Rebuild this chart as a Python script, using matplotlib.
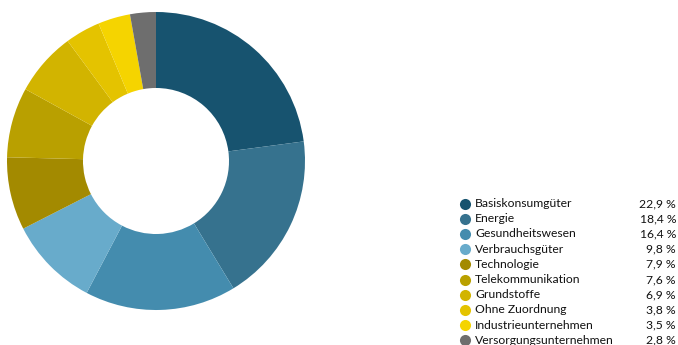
import matplotlib
matplotlib.use('Agg')
import matplotlib.pyplot as plt

plt.rcParams['font.family'] = ['Lato', 'DejaVu Sans']

categories = ['Basiskonsumgüter', 'Energie', 'Gesundheitswesen', 'Verbrauchsgüter',
              'Technologie', 'Telekommunikation', 'Grundstoffe', 'Ohne Zuordnung',
              'Industrieunternehmen', 'Versorgungsunternehmen']
shares = [22.9, 18.4, 16.4, 9.8, 7.9, 7.6, 6.9, 3.8, 3.5, 2.8]
share_labels = ['22,9 %', '18,4 %', '16,4 %', '9,8 %', '7,9 %', '7,6 %', '6,9 %',
                '3,8 %', '3,5 %', '2,8 %']
colors = ['#17536f', '#36728e', '#448cae', '#68abcb', '#a38a00', '#b9a000',
          '#d2b400', '#e4c300', '#f5d400', '#6e6e6e']

W, H = 678, 345
fig = plt.figure(figsize=(W / 100, H / 100), dpi=100)

# donut
cx, cy, r = 156, 161, 149
ax = fig.add_axes([(cx - r) / W, (H - cy - r) / H, 2 * r / W, 2 * r / H])
ax.pie(shares, colors=colors, startangle=90, counterclock=False, radius=1,
       wedgeprops=dict(width=0.51, linewidth=0))
ax.set_xlim(-1, 1)
ax.set_ylim(-1, 1)
ax.set_aspect('equal')
ax.axis('off')

# legend
lax = fig.add_axes([0, 0, 1, 1])
lax.set_xlim(0, W)
lax.set_ylim(H, 0)
lax.axis('off')
y0, dy = 203.5, 15.2
for i, (name, lab, c) in enumerate(zip(categories, share_labels, colors)):
    y = y0 + i * dy
    lax.scatter(464.5, y, s=64, color=c, linewidths=0)
    lax.text(475, y, name, fontsize=8.7, color='#111111', va='center', ha='left')
    lax.text(676, y, lab, fontsize=8.7, color='#111111', va='center', ha='right')

fig.savefig('out.png', dpi=100)
